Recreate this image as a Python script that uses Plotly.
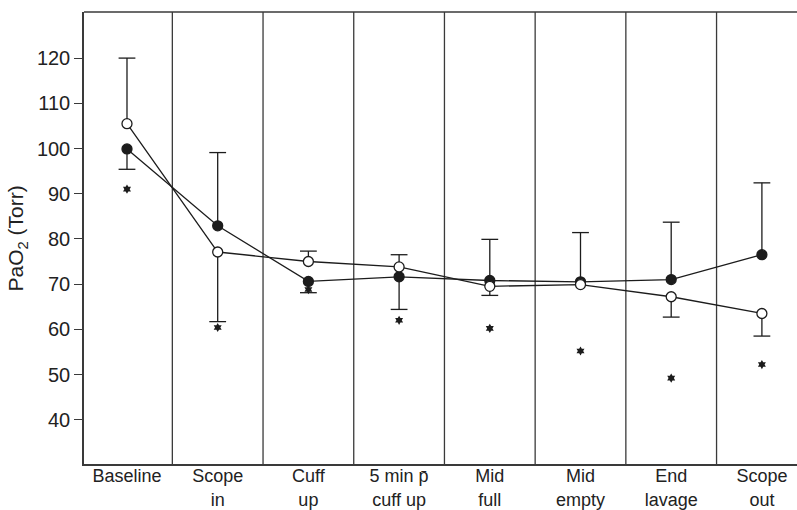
import plotly.graph_objects as go

categories = ["Baseline", "Scope<br>in", "Cuff<br>up", "5 min p\u0304<br>cuff up",
              "Mid<br>full", "Mid<br>empty", "End<br>lavage", "Scope<br>out"]

open_mean = [105.5, 77.1, 75.0, 73.8, 69.5, 69.9, 67.2, 63.5]
open_err_end = [120.0, 61.7, 77.3, 76.5, 67.5, None, 62.7, 58.5]
filled_mean = [99.9, 82.9, 70.6, 71.6, 70.8, 70.5, 71.0, 76.5]
filled_err_end = [95.4, 99.1, 68.1, 64.4, 79.9, 81.4, 83.7, 92.4]
asterisk_y = [91.0, 60.4, 68.8, 62.0, 60.2, 55.2, 49.2, 52.2]

y_ticks = [40, 50, 60, 70, 80, 90, 100, 110, 120]

INK = "#1c1c1c"
AX = "#3a3a3a"
FONT = "Liberation Sans, Arial, sans-serif"

x = list(range(len(categories)))


def split_err(mean, end):
    plus, minus = [], []
    for m, e in zip(mean, end):
        if e is None:
            plus.append(0); minus.append(0)
        else:
            plus.append(max(e - m, 0)); minus.append(max(m - e, 0))
    return plus, minus


fig = go.Figure()

for mean, end, fill in [(filled_mean, filled_err_end, INK), (open_mean, open_err_end, "white")]:
    plus, minus = split_err(mean, end)
    # caps
    cx = [xi for xi, e in zip(x, end) if e is not None]
    cy = [e for e in end if e is not None]
    fig.add_trace(go.Scatter(
        x=cx, y=cy, mode="markers", hoverinfo="skip",
        marker=dict(symbol="line-ew", size=12, line=dict(width=1.3, color=INK)),
    ))
    fig.add_trace(go.Scatter(
        x=x, y=mean, mode="lines+markers",
        line=dict(color=INK, width=1.3),
        marker=dict(symbol="circle", size=10, color=fill, line=dict(color=INK, width=1.3)),
        error_y=dict(type="data", symmetric=False, array=plus, arrayminus=minus,
                     width=0, thickness=1.3, color=INK),
    ))

fig.add_trace(go.Scatter(
    x=x, y=asterisk_y, mode="markers", hoverinfo="skip",
    marker=dict(symbol="hexagram", size=7, color=INK, line=dict(width=0)),
))

shapes = []
for i in range(len(categories) - 1):
    shapes.append(dict(type="line", xref="x", yref="paper", x0=i + 0.5, x1=i + 0.5,
                       y0=0, y1=1, line=dict(color=AX, width=1.3), layer="below"))
shapes.append(dict(type="line", xref="paper", yref="paper", x0=0, x1=1, y0=1, y1=1,
                   line=dict(color=AX, width=1.5)))

fig.update_layout(
    width=797, height=510,
    margin=dict(l=84, r=0, t=12, b=40),
    paper_bgcolor="white", plot_bgcolor="white",
    showlegend=False,
    font=dict(family=FONT, size=18, color="#222"),
    shapes=shapes,
    annotations=[dict(
        text="PaO<sub>2</sub> (Torr)", textangle=-90, showarrow=False,
        xref="paper", yref="paper", x=-0.0933, y=0.5,
        xanchor="center", yanchor="middle", font=dict(size=21, color="#222"),
    )],
    xaxis=dict(
        range=[-0.474, 7.387], tickvals=x, ticktext=categories,
        showgrid=False, zeroline=False, showline=True, linecolor=AX, linewidth=1.5,
        ticks="", tickfont=dict(size=18), ticklabelstandoff=-5,
    ),
    yaxis=dict(
        range=[30.2, 130.2], tickvals=y_ticks,
        showgrid=False, zeroline=False, showline=True, linecolor=AX, linewidth=1.5,
        ticks="outside", ticklen=8, tickwidth=1.3, tickcolor=AX,
        tickfont=dict(size=20),
    ),
)

fig.write_html("out.html")
